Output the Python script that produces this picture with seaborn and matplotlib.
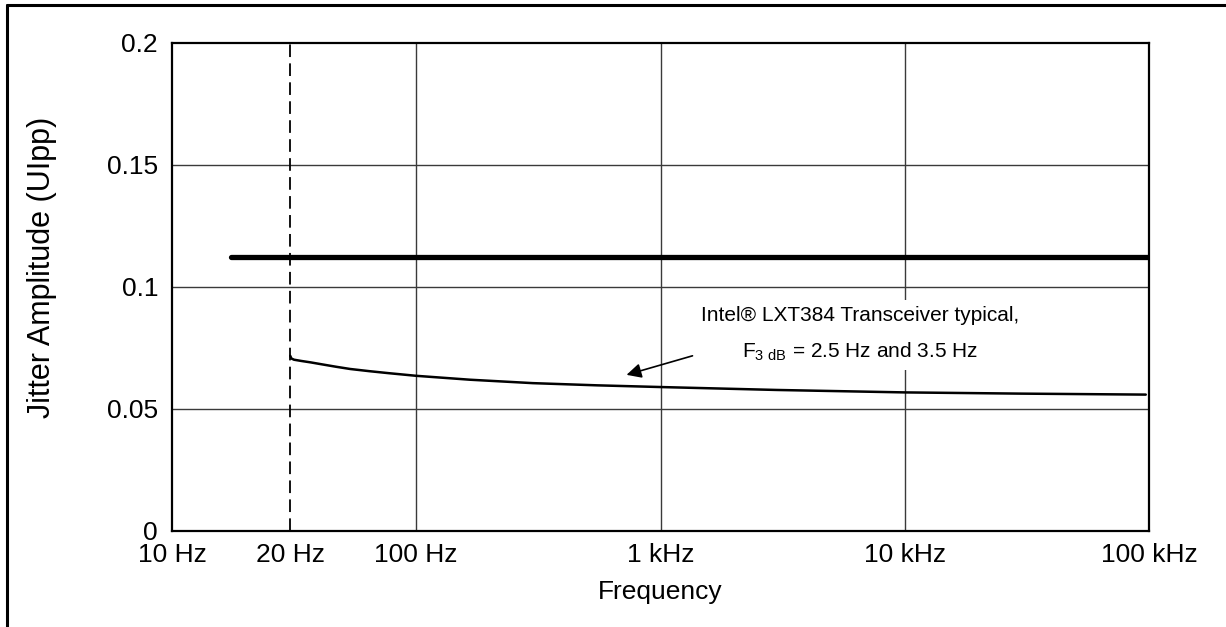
import numpy as np
import pandas as pd
import matplotlib
matplotlib.use('Agg')
import matplotlib.pyplot as plt
from matplotlib.lines import Line2D
import seaborn as sns

# dados
freq_ticks = [10, 20, 100, 1000, 10000, 100000]
freq_labels = ['10 Hz', '20 Hz', '100 Hz', '1 kHz', '10 kHz', '100 kHz']
# posicao de cada marca no eixo (o eixo nao e log puro: 20 Hz fica deslocado)
tick_pos = [0, 0.484, 1, 2, 3, 4]

y_ticks = [0, 0.05, 0.1, 0.15, 0.2]
y_labels = ['0', '0.05', '0.1', '0.15', '0.2']

limit_freq = [14.1, 100000]
limit_amp = [0.1125, 0.1125]

typ_freq = [20, 20.3, 21, 23, 26, 30, 36, 43, 55, 70, 100, 166, 300, 550,
            1000, 3000, 10000, 30000, 97000]
typ_amp = [0.0718, 0.0707, 0.0702, 0.0697, 0.0691, 0.0683, 0.0673, 0.0664, 0.0655,
           0.0647, 0.0636, 0.0620, 0.0606, 0.0597, 0.0590, 0.0578, 0.0568, 0.0563, 0.0559]

corner_freq = 20
arrow_tail = (1352, 0.0718)
arrow_head = (726, 0.0640)
note_pos = (6540, 0.0806)

log_anchor = np.log10(freq_ticks)


def forward(f):
    f = np.clip(np.asarray(f, dtype=float), 1e-3, None)
    return np.interp(np.log10(f), log_anchor, tick_pos)


def inverse(p):
    return 10 ** np.interp(np.asarray(p, dtype=float), tick_pos, log_anchor)


sns.set_theme(style='white')
plt.rcParams['font.family'] = ['Liberation Sans', 'DejaVu Sans']
plt.rcParams['mathtext.default'] = 'regular'

fig = plt.figure(figsize=(12.26, 6.27), dpi=100)
ax = fig.add_axes([172 / 1226, 1 - 531 / 627, 977 / 1226, 488 / 627])
ax.set_xscale('function', functions=(forward, inverse))
ax.set_xlim(10, 100000)
ax.set_ylim(0, 0.2)

# grade
for v in [0.05, 0.1, 0.15]:
    ax.axhline(v, color='#3a3a3a', lw=1.0, zorder=1)
for f in [100, 1000, 10000]:
    ax.axvline(f, color='#3a3a3a', lw=1.0, zorder=1)

ax.axvline(corner_freq, color='black', lw=1.3, linestyle=(0, (7, 3.5)), zorder=2)

df_lim = pd.DataFrame({'freq': limit_freq, 'amp': limit_amp})
df_typ = pd.DataFrame({'freq': typ_freq, 'amp': typ_amp})
sns.lineplot(data=df_lim, x='freq', y='amp', ax=ax, color='black', lw=3.8,
             solid_capstyle='round', zorder=4)
sns.lineplot(data=df_typ, x='freq', y='amp', ax=ax, color='black', lw=1.8, zorder=4)

ax.text(note_pos[0], note_pos[1],
        'Intel\u00ae LXT384 Transceiver typical,\n$F_{3\\ dB}$ = 2.5 Hz and 3.5 Hz',
        ha='center', va='center', fontsize=15, linespacing=1.95, zorder=3,
        color='black', bbox=dict(facecolor='white', edgecolor='none', pad=5))
ax.annotate('', xy=arrow_head, xytext=arrow_tail,
            arrowprops=dict(arrowstyle='-|>', color='black', lw=1.2,
                            mutation_scale=22, shrinkA=0, shrinkB=0), zorder=5)

ax.set_xticks(freq_ticks)
ax.set_xticklabels(freq_labels)
ax.set_yticks(y_ticks)
ax.set_yticklabels(y_labels)
ax.minorticks_off()
ax.tick_params(axis='both', length=0, labelsize=19, colors='black')
ax.tick_params(axis='x', pad=9)
ax.tick_params(axis='y', pad=10)

ax.set_xlabel('Frequency', fontsize=19, color='black')
ax.set_ylabel('Jitter Amplitude (UIpp)', fontsize=22, color='black')
ax.xaxis.set_label_coords(0.5, -0.1)
ax.yaxis.set_label_coords(-0.118, 0.541)

for s in ax.spines.values():
    s.set_color('black')
    s.set_linewidth(1.6)
    s.set_visible(True)

# moldura da figura (so esquerda e topo)
x0 = 7 / 1226
y0 = 1 - 5 / 627
fig.add_artist(Line2D([x0, x0], [0, y0], color='black', lw=2.2))
fig.add_artist(Line2D([x0, 1], [y0, y0], color='black', lw=2.2))

fig.savefig('out.png', dpi=100, facecolor='white')
